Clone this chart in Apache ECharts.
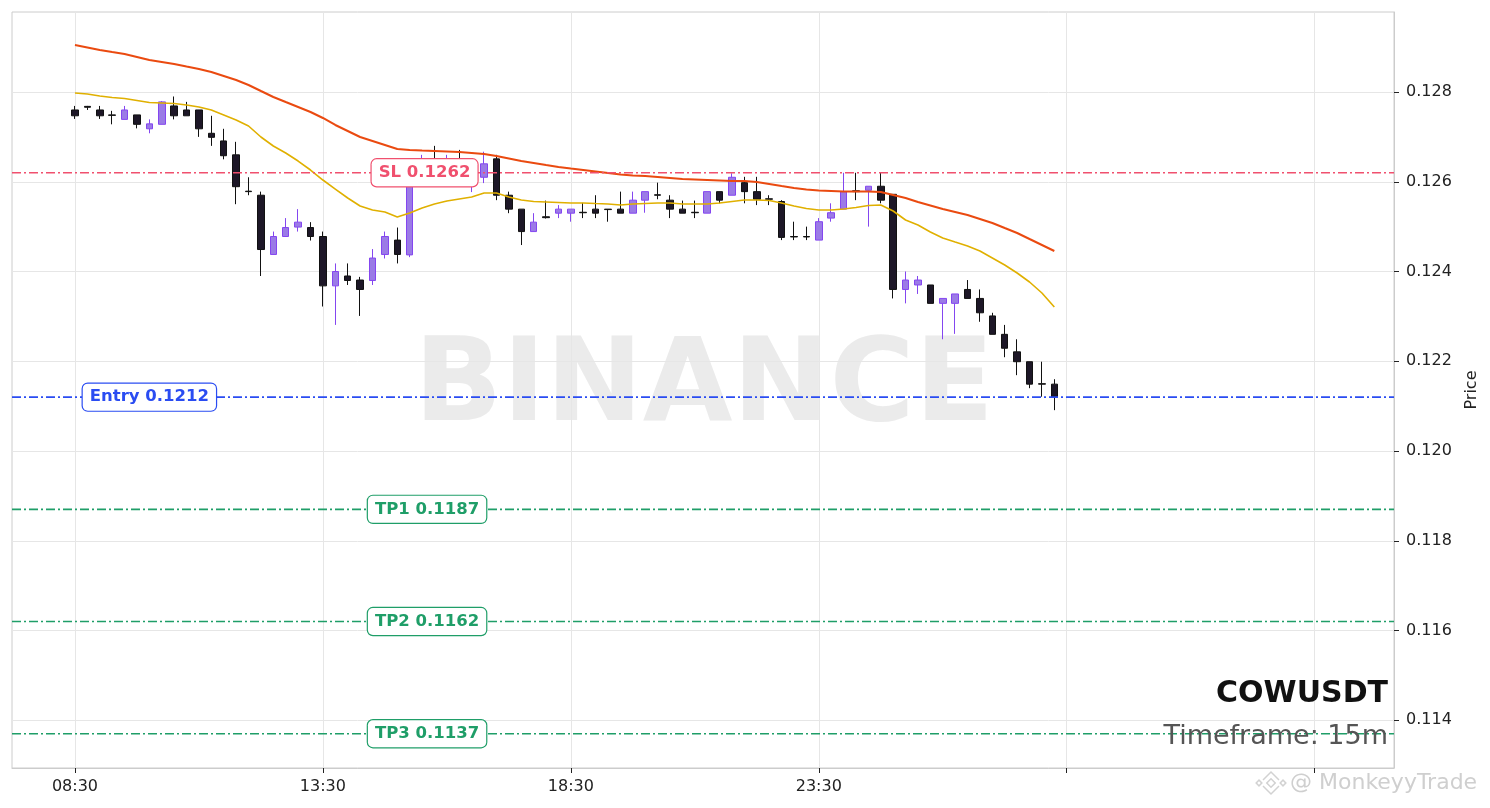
<!DOCTYPE html>
<html>
<head>
<meta charset="utf-8">
<script src="https://cdn.jsdelivr.net/npm/echarts@6/dist/echarts.min.js"></script>
<style>
html,body{margin:0;padding:0;background:#fff;}
#chart{width:1490px;height:808px;}
</style>
</head>
<body>
<div id="chart"></div>
<script>
// ---- data (15m candles starting 08:30) ----
const openP  = [0.12760,0.12768,0.12760,0.12749,0.12739,0.12749,0.12718,0.12728,0.12769,0.12760,
                0.12760,0.12708,0.12691,0.12660,0.12579,0.12570,0.12438,0.12478,0.12499,0.12498,
                0.12478,0.12368,0.12390,0.12381,0.12380,0.12438,0.12470,0.12437,0.12625,0.12645,
                0.12630,0.12640,0.12610,0.12610,0.12651,0.12570,0.12539,0.12489,0.12522,0.12530,
                0.12530,0.12532,0.12539,0.12539,0.12539,0.12530,0.12559,0.12571,0.12559,0.12539,
                0.12532,0.12530,0.12578,0.12570,0.12598,0.12578,0.12562,0.12556,0.12478,0.12478,
                0.12470,0.12519,0.12539,0.12580,0.12581,0.12590,0.12572,0.12360,0.12370,0.12370,
                0.12329,0.12329,0.12360,0.12340,0.12301,0.12260,0.12221,0.12199,0.12150,0.12149];
const closeP = [0.12747,0.12766,0.12747,0.12748,0.12760,0.12728,0.12729,0.12778,0.12747,0.12747,
                0.12718,0.12699,0.12658,0.12589,0.12578,0.12449,0.12478,0.12498,0.12510,0.12478,
                0.12368,0.12400,0.12380,0.12360,0.12430,0.12478,0.12438,0.12620,0.12640,0.12630,
                0.12640,0.12630,0.12625,0.12640,0.12570,0.12539,0.12489,0.12510,0.12520,0.12539,
                0.12539,0.12531,0.12530,0.12538,0.12530,0.12559,0.12578,0.12570,0.12539,0.12530,
                0.12531,0.12578,0.12559,0.12610,0.12578,0.12561,0.12561,0.12476,0.12477,0.12477,
                0.12511,0.12531,0.12578,0.12578,0.12590,0.12559,0.12360,0.12381,0.12381,0.12329,
                0.12340,0.12350,0.12340,0.12308,0.12260,0.12229,0.12199,0.12149,0.12149,0.12120];
const lowP   = [0.12740,0.12760,0.12740,0.12728,0.12739,0.12719,0.12708,0.12728,0.12739,0.12747,
                0.12700,0.12680,0.12650,0.12550,0.12570,0.12390,0.12438,0.12478,0.12489,0.12469,
                0.12322,0.12281,0.12370,0.12301,0.12370,0.12429,0.12418,0.12432,0.12615,0.12620,
                0.12620,0.12615,0.12577,0.12597,0.12559,0.12530,0.12459,0.12489,0.12518,0.12519,
                0.12511,0.12519,0.12519,0.12511,0.12530,0.12530,0.12531,0.12561,0.12519,0.12530,
                0.12519,0.12530,0.12552,0.12570,0.12552,0.12548,0.12548,0.12470,0.12470,0.12470,
                0.12470,0.12511,0.12539,0.12559,0.12500,0.12552,0.12340,0.12329,0.12350,0.12329,
                0.12249,0.12261,0.12340,0.12288,0.12260,0.12209,0.12169,0.12140,0.12121,0.12091];
const highP  = [0.12769,0.12769,0.12769,0.12758,0.12769,0.12749,0.12739,0.12780,0.12790,0.12778,
                0.12760,0.12747,0.12718,0.12689,0.12610,0.12578,0.12489,0.12519,0.12539,0.12510,
                0.12489,0.12418,0.12418,0.12388,0.12450,0.12489,0.12498,0.12630,0.12660,0.12680,
                0.12660,0.12671,0.12650,0.12667,0.12660,0.12578,0.12539,0.12530,0.12558,0.12548,
                0.12539,0.12553,0.12570,0.12539,0.12578,0.12578,0.12578,0.12598,0.12570,0.12558,
                0.12558,0.12578,0.12578,0.12619,0.12611,0.12611,0.12570,0.12559,0.12511,0.12500,
                0.12519,0.12552,0.12620,0.12620,0.12590,0.12620,0.12572,0.12400,0.12390,0.12370,
                0.12340,0.12350,0.12381,0.12360,0.12308,0.12281,0.12249,0.12199,0.12199,0.12160];
const emaSlow = [0.129047,0.128992,0.128936,0.128891,0.128847,0.128780,0.128713,0.128669,0.128624,0.128568,
                 0.128513,0.128446,0.128357,0.128267,0.128156,0.128022,0.127889,0.127777,0.127666,0.127554,
                 0.127421,0.127265,0.127131,0.126997,0.126908,0.126819,0.126730,0.126708,0.126696,0.126685,
                 0.126674,0.126663,0.126641,0.126618,0.126574,0.126518,0.126462,0.126418,0.126373,0.126329,
                 0.126295,0.126262,0.126228,0.126195,0.126162,0.126139,0.126128,0.126106,0.126084,0.126061,
                 0.126050,0.126039,0.126028,0.126017,0.126017,0.125994,0.125950,0.125905,0.125861,0.125827,
                 0.125805,0.125794,0.125783,0.125783,0.125783,0.125772,0.125705,0.125638,0.125549,0.125471,
                 0.125393,0.125326,0.125259,0.125170,0.125081,0.124969,0.124858,0.124724,0.124591,0.124457];
const emaFast = [0.127978,0.127955,0.127911,0.127877,0.127855,0.127811,0.127766,0.127755,0.127744,0.127710,
                 0.127666,0.127599,0.127487,0.127376,0.127242,0.126997,0.126797,0.126641,0.126462,0.126262,
                 0.126039,0.125838,0.125638,0.125460,0.125370,0.125326,0.125215,0.125304,0.125415,0.125504,
                 0.125571,0.125616,0.125660,0.125749,0.125749,0.125660,0.125593,0.125560,0.125549,0.125538,
                 0.125527,0.125527,0.125515,0.125504,0.125482,0.125504,0.125515,0.125527,0.125527,0.125504,
                 0.125504,0.125504,0.125527,0.125560,0.125593,0.125593,0.125582,0.125527,0.125460,0.125404,
                 0.125370,0.125370,0.125393,0.125426,0.125471,0.125482,0.125348,0.125148,0.125036,0.124880,
                 0.124747,0.124657,0.124568,0.124457,0.124301,0.124145,0.123967,0.123766,0.123521,0.123209];

const xTickIdx    = [0, 20, 40, 60, 80, 100];
const xTickLabels = ['08:30', '13:30', '18:30', '23:30'];
const yTicks      = [0.114, 0.116, 0.118, 0.120, 0.122, 0.124, 0.126, 0.128];

const levelNames  = ['SL', 'Entry', 'TP1', 'TP2', 'TP3'];
const levelValues = [0.1262, 0.1212, 0.1187, 0.1162, 0.1137];
const levelLabelIdx = [28.2, 6.0, 28.4, 28.4, 28.4];
const levelColors = ['#f0506e', '#2a4cf2', '#1f9e68', '#1f9e68', '#1f9e68'];

const symbol = 'COWUSDT';
const timeframe = 'Timeframe: 15m';

// ---- build series ----
const X_MIN = -5.08, X_MAX = 106.4;
const candleData = openP.map((o, i) => [i, o, closeP[i], lowP[i], highP[i]]);
const slowData = emaSlow.map((v, i) => [i, v]);
const fastData = emaFast.map((v, i) => [i, v]);
const FONT = '"DejaVu Sans", sans-serif';

const levelLineSeries = levelValues.map((v, i) => ({
  type: 'line', name: levelNames[i], z: 6, silent: true, showSymbol: false, symbol: 'none',
  data: [[X_MIN, v], [X_MAX, v]],
  lineStyle: {color: levelColors[i], width: 1.6, opacity: 1, type: [9, 3, 2, 3]}
}));

const chart = echarts.init(document.getElementById('chart'), null, {renderer: 'canvas'});
chart.setOption({
  animation: false,
  backgroundColor: '#ffffff',
  grid: {left: 12, right: 96, top: 12, bottom: 40, show: true, borderColor: '#cccccc', borderWidth: 1, containLabel: false},
  xAxis: {
    type: 'value', min: X_MIN, max: X_MAX,
    axisLine: {show: true, onZero: false, lineStyle: {color: '#cccccc'}},
    axisTick: {show: true, customValues: xTickIdx, length: 5, lineStyle: {color: '#222'}},
    axisLabel: {show: true, customValues: xTickIdx.slice(0, xTickLabels.length), margin: 11,
      formatter: v => xTickLabels[Math.round(v / 20)] || '', fontFamily: FONT, fontSize: 16, color: '#222'},
    splitLine: {show: true, lineStyle: {color: '#e6e6e6', width: 1}}
  },
  yAxis: {
    type: 'value', position: 'right', min: 0.112936, max: 0.129783, scale: true,
    name: 'Price', nameLocation: 'middle', nameGap: 70, nameRotate: 90,
    nameTextStyle: {fontFamily: FONT, fontSize: 16, color: '#222'},
    axisLine: {show: true, onZero: false, lineStyle: {color: '#cccccc'}},
    axisTick: {show: true, customValues: yTicks, length: 5, lineStyle: {color: '#222'}},
    axisLabel: {show: true, customValues: yTicks, margin: 12, formatter: v => v.toFixed(3),
      fontFamily: FONT, fontSize: 16, color: '#222'},
    splitLine: {show: true, lineStyle: {color: '#e6e6e6', width: 1}}
  },
  graphic: [
    {type: 'text', z: -10, silent: true,
      style: {text: 'BINANCE', x: 704, y: 390, textAlign: 'center', textVerticalAlign: 'middle',
        font: 'bold 116px "DejaVu Sans"', fill: 'rgba(150,150,150,0.19)'}},
    {type: 'text', z: 100,
      style: {text: symbol, x: 1388, y: 694, textAlign: 'right', textVerticalAlign: 'middle',
        font: 'bold 30px "DejaVu Sans"', fill: '#111111'}},
    {type: 'text', z: 100,
      style: {text: timeframe, x: 1388, y: 737, textAlign: 'right', textVerticalAlign: 'middle',
        font: '27px "DejaVu Sans"', fill: '#555555'}},
    {type: 'text', z: 100,
      style: {text: '@ MonkeyyTrade', x: 1290, y: 783, textAlign: 'left', textVerticalAlign: 'middle',
        font: '22px "DejaVu Sans"', fill: '#cfcfcf'}},
    {type: 'group', x: 1271, y: 783, z: 100, children: [
      {type: 'rect', shape: {x: -3, y: -3, width: 6, height: 6}, rotation: Math.PI / 4, style: {fill: 'none', stroke: '#d2d2d2', lineWidth: 1.5}},
      {type: 'polyline', shape: {points: [[-8, -3], [0, -11], [8, -3]]}, style: {fill: 'none', stroke: '#d2d2d2', lineWidth: 1.5}},
      {type: 'polyline', shape: {points: [[-8, 3], [0, 11], [8, 3]]}, style: {fill: 'none', stroke: '#d2d2d2', lineWidth: 1.5}},
      {type: 'rect', shape: {x: -2, y: -2, width: 4, height: 4}, x: -12, rotation: Math.PI / 4, style: {fill: 'none', stroke: '#d2d2d2', lineWidth: 1.5}},
      {type: 'rect', shape: {x: -2, y: -2, width: 4, height: 4}, x: 12, rotation: Math.PI / 4, style: {fill: 'none', stroke: '#d2d2d2', lineWidth: 1.5}}
    ]}
  ],
  series: [
    {
      type: 'candlestick', name: 'price', z: 3,
      data: candleData, encode: {x: 0, y: [1, 2, 3, 4]},
      barWidth: 7,
      itemStyle: {color: '#9b7be6', color0: '#1d1727', borderColor: '#8446f0', borderColor0: '#111111', borderWidth: 1}
    },
    {
      type: 'line', name: 'EMA slow', z: 4, data: slowData, showSymbol: false, symbol: 'none',
      lineStyle: {color: '#ea4a10', width: 2}
    },
    {
      type: 'line', name: 'EMA fast', z: 4, data: fastData, showSymbol: false, symbol: 'none',
      lineStyle: {color: '#e0b000', width: 1.6}
    },
    ...levelLineSeries,
    {
      type: 'scatter', name: 'levelLabels', z: 10, symbolSize: 0, silent: true,
      itemStyle: {opacity: 1},
      data: levelValues.map((v, i) => ({
        value: [levelLabelIdx[i], v],
        label: {
          show: true, position: 'inside', formatter: levelNames[i] + ' ' + v.toFixed(4),
          fontFamily: FONT, fontWeight: 'bold', fontSize: 16.5, color: levelColors[i], opacity: 1,
          backgroundColor: '#ffffff', borderColor: levelColors[i], borderWidth: 1.2, borderRadius: 5,
          padding: [5, 7, 5, 7]
        }
      }))
    }
  ]
});
</script>
</body>
</html>
